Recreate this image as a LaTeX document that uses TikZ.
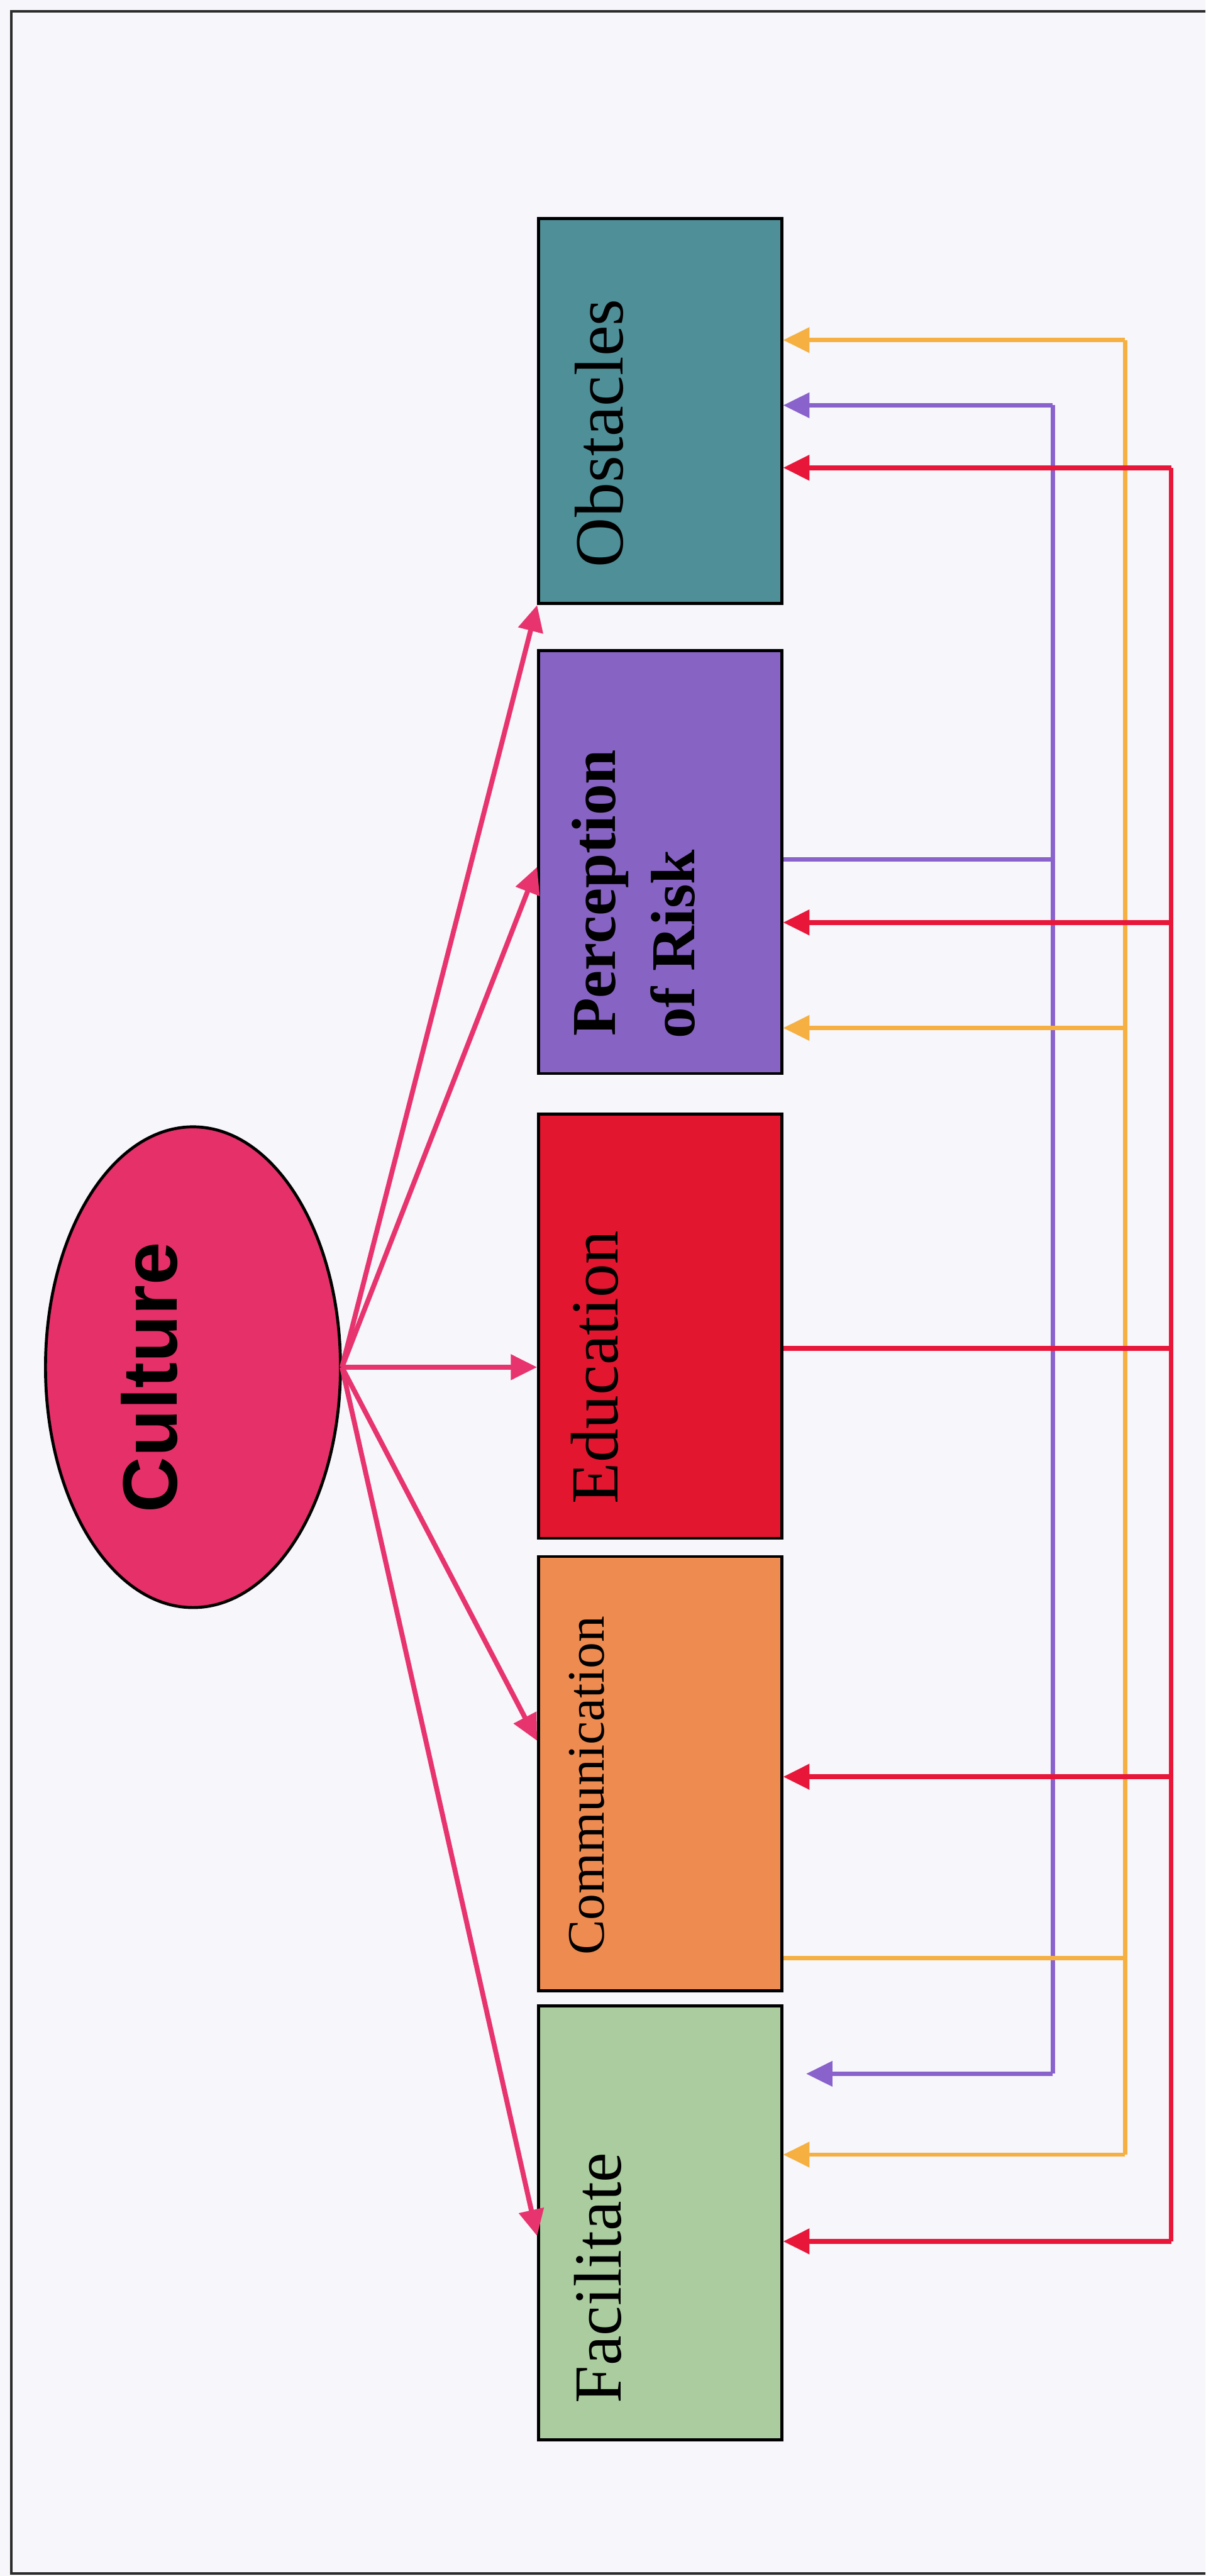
\documentclass[tikz,border=0pt]{standalone}
\usepackage{fontspec}
\setmainfont{Liberation Serif}
\newfontfamily\culturefont{Liberation Sans}
\usetikzlibrary{arrows.meta,shapes.geometric}

\definecolor{paper}{HTML}{F6F6FB}
\definecolor{frame}{HTML}{2B2B2B}
\definecolor{cultfill}{HTML}{E6306A}
\definecolor{cultarrow}{HTML}{E8346E}
\definecolor{obsfill}{HTML}{4F8F98}
\definecolor{perfill}{HTML}{8763C3}
\definecolor{edufill}{HTML}{E31630}
\definecolor{comfill}{HTML}{EE8B50}
\definecolor{facfill}{HTML}{AACC9F}
\definecolor{busred}{HTML}{E8173A}
\definecolor{busorange}{HTML}{F5B041}
\definecolor{buspurple}{HTML}{8A62CC}

\begin{document}
\begin{tikzpicture}[x=1pt,y=-1pt,
  tip/.tip={Triangle[length=16pt,width=15pt]},
  box/.style={draw=black, line width=1.8pt, minimum width=148pt,
    inner sep=0pt, anchor=north west},
  lbl/.style={rotate=90, anchor=base west, inner sep=0pt,
    font=\fontsize{41}{49}\selectfont},
  spoke/.style={draw=cultarrow, line width=3pt, -tip},
  redbus/.style={draw=busred, line width=3pt},
  orangebus/.style={draw=busorange, line width=2.6pt},
  purplebus/.style={draw=buspurple, line width=2.6pt}]

% page and frame
\fill[paper] (0,0) rectangle (734,1568);
\useasboundingbox (0,0) rectangle (734,1568);
\draw[frame, line width=1.4pt] (734,7) -- (7,7) -- (7,1566.5) -- (734,1566.5);

% central ellipse
\node[ellipse, draw=black, line width=1.8pt, fill=cultfill, inner sep=0pt,
      minimum width=179.6pt, minimum height=292.6pt] (cul) at (117.5,832.2) {};
\node[rotate=90, anchor=base west, inner sep=0pt,
      font=\culturefont\bfseries\fontsize{47}{50}\selectfont] (tcul) at (107.8,921) {Culture};

% factor boxes
\node[box, fill=obsfill, minimum height=234.5pt] (obs) at (327,132) {};
\node[box, fill=perfill, minimum height=257.6pt] (per) at (327,395) {};
\node[box, fill=edufill, minimum height=258.1pt] (edu) at (327,677.3) {};
\node[box, fill=comfill, minimum height=264.2pt] (com) at (327,946.6) {};
\node[box, fill=facfill, minimum height=264.2pt] (fac) at (327,1220) {};

% box labels
\node[lbl, font=\fontsize{42}{49}\selectfont] (tobs) at (379.3,345.5) {Obstacles};
\node[lbl, font=\bfseries\fontsize{38}{49}\selectfont] (tper1) at (374.5,631) {Perception};
\node[lbl, font=\bfseries\fontsize{38}{49}\selectfont] (tper2) at (422.9,632.5) {of Risk};
\node[lbl] (tedu) at (376,915.5) {Education};
\node[lbl, font=\fontsize{32}{38}\selectfont] (tcom) at (367.7,1190.3) {Communication};
\node[lbl] (tfac) at (378,1463) {Facilitate};

% spokes from the ellipse
\draw[spoke] (cul.east) -- (obs.south west);
\draw[spoke] (cul.east) -- ([yshift=-3pt]per.west);
\draw[spoke] (cul.east) -- (edu.west |- cul.east);
\draw[spoke] (cul.east) -- ([yshift=20pt]com.west);
\draw[spoke] (cul.east) -- ([yshift=-8pt]fac.west);

% bus junctions
\coordinate (r1) at (713,284.7);
\coordinate (r2) at (713,561.5);
\coordinate (r3) at (713,820.7);
\coordinate (r4) at (713,1081.5);
\coordinate (r5) at (713,1364.3);
\coordinate (p1) at (641,246.7);
\coordinate (p2) at (641,523);
\coordinate (p3) at (641,1262.3);
\coordinate (o1) at (685,207);
\coordinate (o2) at (685,625.7);
\coordinate (o3) at (685,1192);
\coordinate (o4) at (685,1311.5);

% vertical buses
\draw[purplebus] (p1) -- (p3);
\draw[orangebus] (o1) -- (o4);
\draw[redbus] (r1) -- (r5);

% purple: Perception of Risk feeds Obstacles and Facilitate
\draw[purplebus] (per.east |- p2) -- (p2);
\draw[purplebus, -tip] (p1) -- (obs.east |- p1);
\draw[purplebus, -tip] (p3) -- ([xshift=14pt]fac.east |- p3);

% orange: Communication feeds Obstacles, Perception of Risk and Facilitate
\draw[orangebus] (com.east |- o3) -- (o3);
\draw[orangebus, -tip] (o1) -- (obs.east |- o1);
\draw[orangebus, -tip] (o2) -- (per.east |- o2);
\draw[orangebus, -tip] (o4) -- (fac.east |- o4);

% red: Education feeds the other four
\draw[redbus] (edu.east |- r3) -- (r3);
\draw[redbus, -tip] (r1) -- (obs.east |- r1);
\draw[redbus, -tip] (r2) -- (per.east |- r2);
\draw[redbus, -tip] (r4) -- (com.east |- r4);
\draw[redbus, -tip] (r5) -- (fac.east |- r5);
\end{tikzpicture}
\end{document}
